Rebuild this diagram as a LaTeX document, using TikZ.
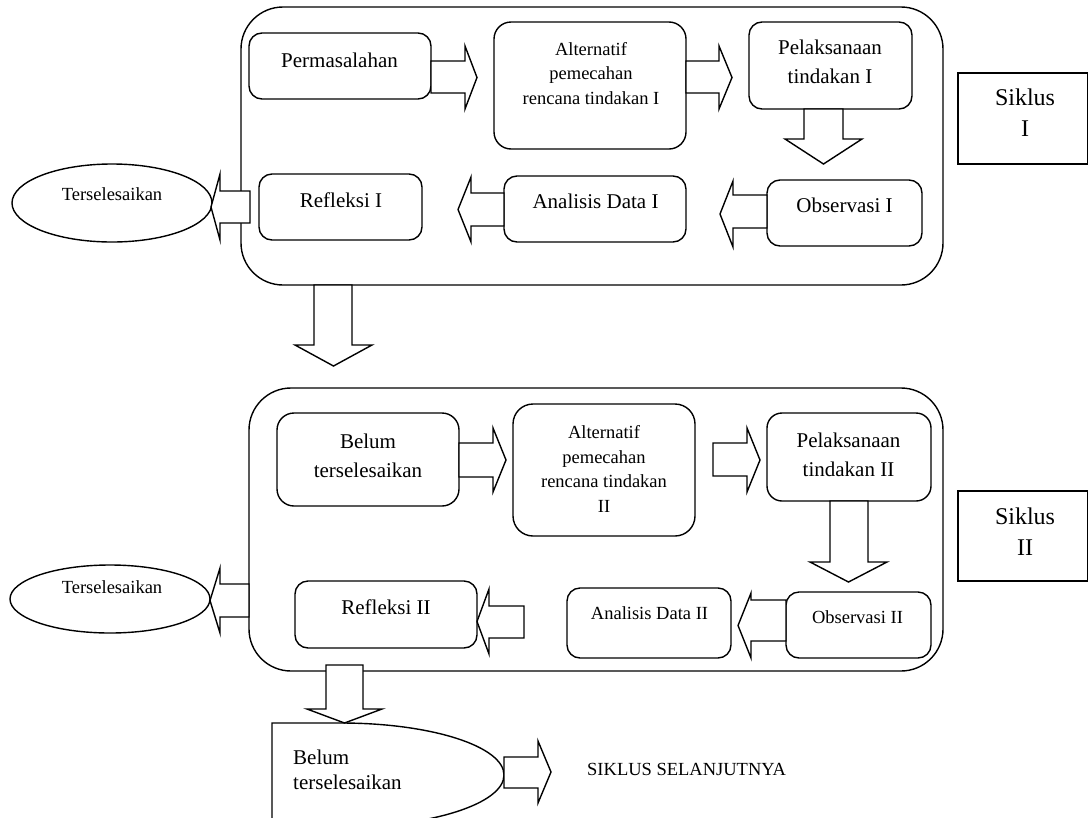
\documentclass[tikz,border=0pt]{standalone}
\usepackage{fontspec}
\setmainfont{Liberation Serif}
\usetikzlibrary{shapes.geometric}
\tikzset{
  box/.style={draw, line width=1.4pt, inner sep=0pt},
  barrow/.style={draw, fill=white, line width=1.4pt, line join=miter},
  tA/.style={font=\fontsize{21}{28.5}\selectfont, inner sep=0pt, align=center},
  tB/.style={font=\fontsize{18.5}{24.5}\selectfont, inner sep=0pt, align=center},
  tC/.style={font=\fontsize{24}{31}\selectfont, inner sep=0pt, align=center},
  tD/.style={font=\fontsize{21}{25}\selectfont, inner sep=0pt, align=left},
}
% box by corners: name, x1, y1, x2, y2, radius
\newcommand{\boxn}[6]{\node[box, rounded corners=#6pt, minimum width={(#4-#2)*1pt}, minimum height={(#5-#3)*1pt}] (#1) at ({(#2+#4)/2},{(#3+#5)/2}) {};}
% horizontal block arrow: x0, x1, x2, shaft ya, yb, head ha, hb
\newcommand{\harr}[7]{\draw[barrow] (#1,#4) -- (#2,#4) -- (#2,#6) -- (#3,{(#6+#7)/2}) -- (#2,#7) -- (#2,#5) -- (#1,#5) -- cycle;}
% vertical block arrow: y0, y1, y2, shaft xa, xb, head ha, hb
\newcommand{\varr}[7]{\draw[barrow] (#4,#1) -- (#4,#2) -- (#6,#2) -- ({(#6+#7)/2},#3) -- (#7,#2) -- (#5,#2) -- (#5,#1) -- cycle;}
\begin{document}
\begin{tikzpicture}[x=1pt, y=-1pt]
\useasboundingbox (0,0) rectangle (1089,817);
\clip (0,0) rectangle (1089,817);

% ---------- Cycle I ----------
\boxn{big1}{241}{7}{943}{285}{42}
\boxn{perm}{249}{33}{431}{99}{13}
\boxn{alt1}{494}{22}{686}{149}{17}
\boxn{pel1}{749}{22}{912}{109}{13}
\boxn{obs1}{767}{180}{922}{246}{13}
\boxn{ana1}{504}{176}{686}{242}{13}
\boxn{ref1}{259}{174}{422}{240}{13}
\node[box, ellipse, minimum width=200pt, minimum height=78pt] (ters1) at (112,203) {};
\draw[box] (958,73) rectangle (1087.5,164) coordinate (sik1);

\node[tA, anchor=base] (tperm) at (339.5,67) {Permasalahan};
\node[tB, anchor=base] (talt1) at (591,104) {Alternatif\\pemecahan\\rencana tindakan I};
\node[tA, anchor=base] (tpel1) at (830,83) {Pelaksanaan\\tindakan I};
\node[tA, anchor=base] (tobs1) at (844.5,212) {Observasi I};
\node[tA, anchor=base] (tana1) at (595.5,208) {Analisis Data I};
\node[tA, anchor=base] (tref1) at (341,207) {Refleksi I};
\node[tB, anchor=base] (tters1) at (112,200) {Terselesaikan};
\node[tC, anchor=base] (tsik1) at (1025,136) {Siklus\\I};

% ---------- Cycle II ----------
\boxn{big2}{249}{388}{943}{671}{42}
\boxn{belum}{277}{413}{459}{506}{17}
\boxn{alt2}{513}{404}{695}{536}{20}
\boxn{pel2}{767}{413}{931}{501}{15}
\boxn{obs2}{786}{592}{931}{658}{13}
\boxn{ana2}{567}{588}{731}{658}{13}
\boxn{ref2}{295}{581}{477}{648}{13}
\node[box, ellipse, minimum width=200pt, minimum height=68pt] (ters2) at (110,599) {};
\draw[box] (958,491) rectangle (1087.5,581) coordinate (sik2);

\node[tA, anchor=base] (tbelum) at (368,477) {Belum\\terselesaikan};
\node[tB, anchor=base] (talt2) at (604,512) {Alternatif\\pemecahan\\rencana tindakan\\II};
\node[tA, anchor=base] (tpel2) at (848.5,476) {Pelaksanaan\\tindakan II};
\node[tB, anchor=base] (tobs2) at (857.5,623) {Observasi II};
\node[tB, anchor=base] (tana2) at (649.5,619) {Analisis Data II};
\node[tA, anchor=base] (tref2) at (386,614) {Refleksi II};
\node[tB, anchor=base] (tters2) at (112,593) {Terselesaikan};
\node[tC, anchor=base] (tsik2) at (1025,555) {Siklus\\II};

% ---------- Final ----------
\draw[box] (272,840) -- (272,723) -- (341,723)
  .. controls (431,723) and (504,746.3) .. (504,775)
  .. controls (504,803.7) and (431,827) .. (341,827) -- (272,827);
\node[tD, anchor=base west] (tbelum2) at (293,789) {Belum\\terselesaikan};
\node[tB, anchor=base west] (tnext) at (587,775) {SIKLUS SELANJUTNYA};

% ---------- Block arrows ----------
\harr{431}{465}{477}{61}{93}{46}{109}
\harr{686}{719}{732}{61}{93}{46}{109}
\varr{109}{139}{164}{804}{843}{785}{862}
\harr{767}{733}{720}{195}{228}{181}{247}
\harr{504}{471}{458}{193}{226}{177}{242}
\harr{250}{220}{211}{191}{223}{174}{240}
\varr{285}{345}{366}{314}{352}{295}{372}

\harr{459}{493}{506}{443}{477}{428}{492}
\harr{713}{747}{760}{443}{476}{428}{492}
\varr{501}{562}{582}{830}{868}{810}{887}
\harr{786}{751}{738}{600}{641}{593}{658}
\harr{524}{489}{477}{606}{638}{589}{654}
\harr{249}{220}{210}{584}{617}{568}{633}
\varr{665}{709}{723}{326}{363}{307}{382}
\harr{504}{538}{551}{757}{788}{741}{803}
\end{tikzpicture}
\end{document}
